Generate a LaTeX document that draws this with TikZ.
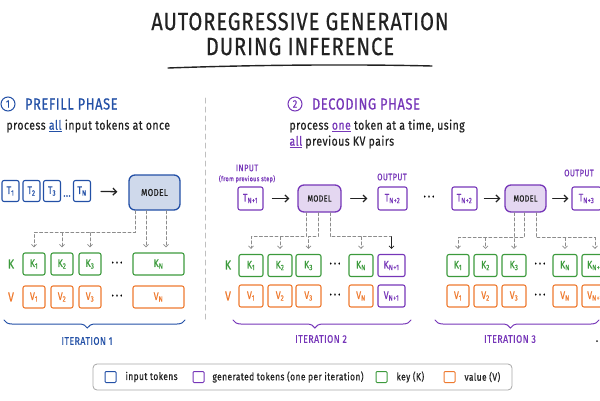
\documentclass[tikz,border=0pt]{standalone}
\usepackage{fontspec}
\setmainfont{Fira Sans}[FakeStretch=0.8, LetterSpace=4, FakeBold=0.6]
\usetikzlibrary{positioning,arrows.meta,calc,decorations.pathreplacing}
\definecolor{inblue}{HTML}{2350A6}
\definecolor{genpurple}{HTML}{7636B8}
\definecolor{keygreen}{HTML}{3C9A3C}
\definecolor{valorange}{HTML}{EE7A2F}
\definecolor{dashgray}{HTML}{8C8C8C}
\definecolor{inkgray}{HTML}{222222}
\newcommand{\fsz}[1]{\fontsize{#1}{#1}\selectfont}
\newcommand{\tk}[2]{#1\textsubscript{#2}}

\begin{document}
\begin{tikzpicture}[x=1pt, y=-1pt, line cap=round,
    tok/.style={draw, rounded corners=2pt, line width=1.1pt, inner sep=0pt,
                minimum width=22, minimum height=22, font=\fsz{11}},
    intok/.style={tok, draw=inblue, text=inblue, minimum width=17, minimum height=21},
    gentok/.style={tok, draw=genpurple, text=genpurple, minimum width=25, minimum height=23},
    kbox/.style={tok, draw=keygreen, text=keygreen},
    vbox/.style={tok, draw=valorange, text=valorange},
    model/.style={draw, rounded corners=6pt, line width=1.3pt, font=\fsz{10}},
    feed/.style={-{Straight Barb[length=3.5pt,width=7pt]}, line width=1.3pt, inkgray},
    cache/.style={dash pattern=on 3pt off 2.2pt, line width=0.8pt, dashgray,
                  -{Straight Barb[length=2.5pt,width=5pt]}, shorten >=5pt},
    newcache/.style={cache, inkgray, solid},
    rowlbl/.style={font=\fsz{13}},
    phasetxt/.style={font=\fsz{16}, anchor=west},
    numc/.style={circle, draw, line width=1pt, inner sep=0pt, minimum size=14, font=\fsz{11}},
    bodytxt/.style={font=\fontsize{13}{16}\selectfont, anchor=west, align=left, text=inkgray},
    tagtxt/.style={font=\fsz{9.5}, text=genpurple},
    itertxt/.style={font=\fsz{11}},
    bracket/.style={decorate, decoration={brace, amplitude=8pt, mirror, aspect=0.46}, line width=1pt},
    swatch/.style={draw, rounded corners=1pt, line width=1pt, minimum size=11, inner sep=0pt},
    legtxt/.style={font=\fsz{10.5}, anchor=west, text=inkgray}
  ]
  \useasboundingbox (0,0) rectangle (600,400);
  \clip (0,0) rectangle (600,400);

  % title
  \node[font=\fontsize{25}{25}\selectfont, align=center, text=inkgray] (title) at (300,34) {AUTOREGRESSIVE GENERATION\\DURING INFERENCE};
  \draw[line width=1.4pt, inkgray] (168,68) .. controls (250,65) and (350,64) .. (432,66);

  % divider
  \draw[gray!50, line width=1pt, dash pattern=on 5pt off 4pt] (205,98) -- (205,322);

  % ---- prefill ----
  \node[numc, draw=inblue, text=inblue] (pnum) at (8,104) {1};
  \node[phasetxt, text=inblue, right=6pt of pnum] (phead) {PREFILL PHASE};
  \node[bodytxt] (pbody) at (3,126) {process \textcolor{inblue}{\underline{all}} input tokens at once};

  \node[intok] (pt1) at (10.5,191) {\tk{T}{1}};
  \node[intok] (pt2) at (31.5,191) {\tk{T}{2}};
  \node[intok] (pt3) at (52,191) {\tk{T}{3}};
  \node[font=\fsz{11}, text=inblue] (pdots) at (67,196) {...};
  \node[intok] (ptn) at (82,191) {\tk{T}{N}};
  \node[model, draw=inblue, fill=inblue!22, text=inkgray, minimum width=51, minimum height=35] (pmodel) at (154.5,192.5) {MODEL};
  \draw[feed, shorten <=10pt, shorten >=11pt] (ptn) -- (pmodel);

  \node[rowlbl, text=keygreen] (pklbl) at (11,264) {K};
  \node[rowlbl, text=valorange] (pvlbl) at (11,297) {V};
  \node[kbox] (pk1) at (34,264) {\tk{K}{1}};
  \node[kbox] (pk2) at (62,264) {\tk{K}{2}};
  \node[kbox] (pk3) at (90,264) {\tk{K}{3}};
  \node[font=\fsz{12}] (pkdots) at (117,264) {·\,·\,·};
  \node[kbox, minimum width=51] (pkn) at (158.5,264) {\tk{K}{N}};
  \node[vbox] (pv1) at (34,297) {\tk{V}{1}};
  \node[vbox] (pv2) at (62,297) {\tk{V}{2}};
  \node[vbox] (pv3) at (90,297) {\tk{V}{3}};
  \node[font=\fsz{12}] (pvdots) at (117,297) {·\,·\,·};
  \node[vbox, minimum width=51] (pvn) at (158.5,297) {\tk{V}{N}};

  \coordinate (pa) at ($(pmodel.south)+(-19.5,0)$);
  \draw[cache] (pa) -- ++(0,22) coordinate (pbar) -| (pk1.north);
  \draw[cache] (pbar -| pk2.north) -- (pk2.north);
  \draw[cache] (pbar -| pk3.north) -- (pk3.north);
  \coordinate (pc) at ($(pmodel.south)+(-8.5,0)$);
  \draw[cache] (pc) -- (pc |- pkn.north);
  \coordinate (pd) at ($(pmodel.south)+(11.5,0)$);
  \draw[cache] (pd) -- (pd |- pkn.north);

  \draw[bracket, inblue] (4,320) -- (185,320);
  \node[itertxt, text=inblue] (piter) at (87,341) {ITERATION 1};

  % ---- decoding ----
  \node[numc, draw=genpurple, text=genpurple] (dnum) at (295,104) {2};
  \node[phasetxt, text=genpurple, right=6pt of dnum] (dhead) {DECODING PHASE};
  \node[bodytxt] (dbody) at (286,134) {process \textcolor{genpurple}{\underline{one}} token at a time, using\\\textcolor{genpurple}{\underline{all}} previous KV pairs};

  % iteration 2
  \node[tagtxt] (din) at (247,168) {INPUT};
  \node[tagtxt, font=\fsz{7}] (dfrom) at (247,179) {(from previous step)};
  \node[gentok] (dt1) at (250.5,198.5) {\tk{T}{N+1}};
  \node[model, draw=genpurple, fill=genpurple!20, text=inkgray, font=\fsz{9}, minimum width=43, minimum height=27] (dmodel) at (319.5,198.5) {MODEL};
  \node[tagtxt] (dout) at (392,177) {OUTPUT};
  \node[gentok, minimum width=29] (dt2) at (392.5,198.5) {\tk{T}{N+2}};
  \draw[feed, shorten <=9pt, shorten >=8pt] (dt1) -- (dmodel);
  \draw[feed, shorten <=9pt, shorten >=10pt] (dmodel) -- (dt2);
  \node[font=\fsz{12}] (ddots) at (429,198) {·\,·\,·};

  \node[rowlbl, text=keygreen] (dklbl) at (228,265) {K};
  \node[rowlbl, text=valorange] (dvlbl) at (228,296) {V};
  \node[kbox, minimum width=24] (dk1) at (251,265.5) {\tk{K}{1}};
  \node[kbox, minimum width=24] (dk2) at (280,265.5) {\tk{K}{2}};
  \node[kbox, minimum width=25] (dk3) at (308.5,265.5) {\tk{K}{3}};
  \node[font=\fsz{12}] (dkdots) at (335,265) {·\,·\,·};
  \node[kbox, minimum width=24] (dkn) at (361,265.5) {\tk{K}{N}};
  \node[gentok, minimum width=27, minimum height=22] (dkn1) at (391.5,265.5) {\tk{K}{N+1}};
  \node[vbox, minimum width=24] (dv1) at (251,296) {\tk{V}{1}};
  \node[vbox, minimum width=24] (dv2) at (280,296) {\tk{V}{2}};
  \node[vbox, minimum width=25] (dv3) at (308.5,296) {\tk{V}{3}};
  \node[font=\fsz{12}] (dvdots) at (335,296) {·\,·\,·};
  \node[vbox, minimum width=24] (dvn) at (361,296) {\tk{V}{N}};
  \node[gentok, minimum width=27, minimum height=22] (dvn1) at (391.5,296) {\tk{V}{N+1}};

  \coordinate (da) at ($(dmodel.south)+(-13.5,0)$);
  \draw[cache] (da) -- ++(0,24) coordinate (dbar) -| (dk1.north);
  \draw[cache] (dbar -| dk2.north) -- (dk2.north);
  \coordinate (db) at ($(dmodel.south)+(-1.5,0)$);
  \draw[cache] (db) -- ++(0,24) -| (dk3.north);
  \coordinate (dc) at ($(dmodel.south)+(10.5,0)$);
  \draw[cache, -, shorten >=0pt] (dc) -- ++(0,24) coordinate (dbar2) -- (dbar2 -| dkn1.north);
  \draw[cache] (dbar2 -| dkn.north) -- (dkn.north);
  \draw[newcache] (dbar2 -| dkn1.north) -- (dkn1.north);

  \draw[bracket, genpurple] (233,320) -- (411,320);
  \node[itertxt, text=genpurple] (diter) at (321,339) {ITERATION 2};

  % iteration 3
  \node[gentok] (et1) at (464.5,198.5) {\tk{T}{N+2}};
  \node[model, draw=genpurple, fill=genpurple!20, text=inkgray, font=\fsz{9}, minimum width=41, minimum height=27] (emodel) at (525.5,198.5) {MODEL};
  \node[tagtxt] (eout) at (579,173) {OUTPUT};
  \node[gentok, minimum width=29] (et2) at (586.5,198.5) {\tk{T}{N+3}};
  \draw[feed, shorten <=7pt, shorten >=4pt] (et1) -- (emodel);
  \draw[feed, shorten <=6pt, shorten >=3pt] (emodel) -- (et2);

  \node[kbox] (ek1) at (458,265.5) {\tk{K}{1}};
  \node[kbox, minimum width=23] (ek2) at (485.5,265.5) {\tk{K}{2}};
  \node[kbox, minimum width=24] (ek3) at (514,265.5) {\tk{K}{3}};
  \node[font=\fsz{12}] (ekdots) at (540,265) {·\,·\,·};
  \node[kbox, minimum width=24] (ekn) at (565,265.5) {\tk{K}{N}};
  \node[kbox, minimum width=26] (ekn1) at (595,265.5) {\tk{K}{N+1}};
  \node[vbox] (ev1) at (458,296) {\tk{V}{1}};
  \node[vbox, minimum width=23] (ev2) at (485.5,296) {\tk{V}{2}};
  \node[vbox, minimum width=24] (ev3) at (514,296) {\tk{V}{3}};
  \node[font=\fsz{12}] (evdots) at (540,296) {·\,·\,·};
  \node[vbox, minimum width=24] (evn) at (565,296) {\tk{V}{N}};
  \node[vbox, minimum width=26] (evn1) at (595,296) {\tk{V}{N+1}};

  \coordinate (ea) at ($(emodel.south)+(-1.5,0)$);
  \draw[cache] (ea) -- ++(0,25) coordinate (ebar) -| (ek1.north);
  \draw[cache] (ebar -| ek2.north) -- (ek2.north);
  \coordinate (eb) at ($(emodel.south)+(-11.5,0)$);
  \draw[cache] (eb) -- (eb |- ek3.north);
  \coordinate (ec) at ($(emodel.south)+(10.5,0)$);
  \draw[cache] (ec) -- ++(0,25) coordinate (ebar2) -| (ekn1.north);
  \draw[cache] (ebar2 -| ekn.north) -- (ekn.north);

  \draw[bracket, genpurple] (435,320) -- (599,320);
  \node[itertxt, text=genpurple] (eiter) at (510,339) {ITERATION 3};
  \fill[inkgray] (597,341) circle (1);

  % legend
  \node[draw=gray!70, rounded corners=4pt, line width=0.8pt, minimum width=419, minimum height=26] (legend) at (302.5,377) {};
  \node[swatch, draw=inblue] (lin) at (110.5,377) {};
  \node[legtxt] at (122,377) {input tokens};
  \node[swatch, draw=genpurple] (lgen) at (198.5,377) {};
  \node[legtxt] at (209,377) {generated tokens (one per iteration)};
  \node[swatch, draw=keygreen] (lkey) at (381.5,377) {};
  \node[legtxt] at (393,377) {key (K)};
  \node[swatch, draw=valorange] (lval) at (449.5,377) {};
  \node[legtxt] at (461,377) {value (V)};
\end{tikzpicture}
\end{document}
